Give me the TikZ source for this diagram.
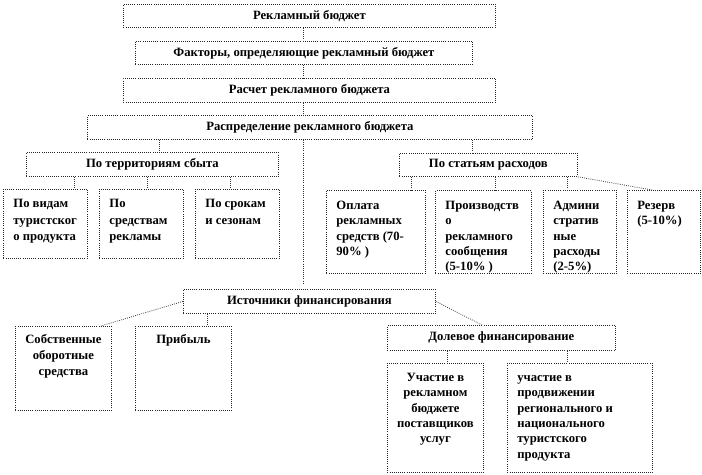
\documentclass[tikz,border=0pt]{standalone}
\usepackage{fontspec}
\setmainfont{Liberation Serif}
\usetikzlibrary{calc}
\tikzset{
  bx/.style={draw=black!85, densely dotted, line width=0.6pt, inner sep=0pt,
    font=\bfseries\fontsize{9.5}{11.5}\selectfont, text=black},
  ln/.style={draw=black!80, densely dotted, line width=0.6pt},
}
\newcommand\hbx[6]{\node[bx, anchor=north west, minimum width={(#4-#2)*0.75pt}, minimum height={(#5-#3)*0.75pt}] (#1) at (#2,#3) {#6};}
\newcommand\tbx[8]{\node[bx, anchor=north west] (#1) at (#2,#3) {\parbox[t][\dimexpr(#5pt-#3pt)*3/4\relax][t]{\dimexpr(#4pt-#2pt)*3/4\relax}{#7\vspace*{#6}\strut#8}};}
\newcommand\lft{\raggedright\leftskip=7.5pt }
\begin{document}
\begin{tikzpicture}[x=0.75pt,y=-0.75pt]
\useasboundingbox (0,0) rectangle (702,474);
\coordinate (col) at (303,0);
% top column
\hbx{b1}{123}{4}{495}{27}{Рекламный бюджет}
\hbx{b2}{135}{41}{472}{64}{Факторы, определяющие рекламный бюджет}
\hbx{b3}{123}{78}{495}{102}{Расчет рекламного бюджета}
\hbx{b4}{87}{115}{532}{139}{Распределение рекламного бюджета}
% distribution branches
\hbx{terr}{26}{152}{278}{176}{По территориям сбыта}
\hbx{art}{399}{153}{577}{176}{По статьям расходов}
\tbx{t1}{3}{189}{87}{258}{4.75pt}{\fontsize{9.5}{12.5}\selectfont\lft}{По видам\\ туристског\\ о продукта}
\tbx{t2}{99}{189}{183}{258}{4.75pt}{\fontsize{9.5}{12.5}\selectfont\lft}{По\\ средствам\\ рекламы}
\tbx{t3}{195}{189}{279}{258}{4.75pt}{\fontsize{9.5}{12.5}\selectfont\lft}{По срокам\\ и сезонам}
\tbx{a1}{326}{190}{425}{273}{6.2pt}{\lft}{Оплата\\ рекламных\\ средств (70-\\ 90\% )}
\tbx{a2}{435}{190}{531}{273}{6.2pt}{\lft}{Производств\\ о\\ рекламного\\ сообщения\\ (5-10\% )}
\tbx{a3}{543}{190}{616}{273}{6.2pt}{\lft}{Админи\\ стратив\\ ные\\ расходы\\ (2-5\%)}
\tbx{a4}{627}{190}{700}{273}{6.2pt}{\lft}{Резерв\\ (5-10\%)}
% financing
\hbx{ist}{183}{289}{435}{313}{Источники финансирования}
\tbx{own}{15}{326}{111}{410}{4.35pt}{\fontsize{9.5}{12}\selectfont\centering}{Собственные\\ оборотные\\ средства}
\tbx{prib}{135}{326}{231}{410}{4.35pt}{\fontsize{9.5}{12}\selectfont\centering}{Прибыль}
\hbx{dol}{387}{325}{615}{350}{Долевое финансирование}
\tbx{u1}{387}{363}{483}{472}{5.5pt}{\centering}{Участие в\\ рекламном\\ бюджете\\ поставщиков\\ услуг}
\tbx{u2}{507}{363}{652}{472}{5.5pt}{\lft}{участие в\\ продвижении\\ регионального и\\ национального\\ туристского\\ продукта}
% connectors
\draw[ln] (b1.south -| col) -- (b2.north -| col);
\draw[ln] (b2.south -| col) -- (b3.north -| col);
\draw[ln] (b3.south -| col) -- (b4.north -| col);
\draw[ln, shorten >=4.5pt] (b4.south -| col) -- (ist.north -| col);
\draw[ln] (b4.south -| 159,0) -- (terr.north -| 159,0);
\draw[ln] (b4.south -| 472,0) -- (art.north -| 472,0);
\draw[ln] (terr.south -| 74,0) -- (t1.north -| 74,0);
\draw[ln] (terr.south -| 147,0) -- (t2.north -| 147,0);
\draw[ln] (terr.south -| 230,0) -- (t3.north -| 230,0);
\draw[ln] (art.south -| 411,0) -- (a1.north -| 411,0);
\draw[ln] (art.south -| 495,0) -- (a2.north -| 495,0);
\draw[ln] (art.south -| 567,0) -- (a3.north -| 567,0);
\draw[ln] (art.south east) -- ([xshift=18.75pt]a4.north west);
\draw[ln] (ist.west) -- ([xshift=-8.25pt]own.north east);
\draw[ln] (ist.south -| 207,0) -- (prib.north -| 207,0);
\draw[ln] (ist.east) -- ([xshift=71.25pt]dol.north west);
\draw[ln] (dol.south -| 447,0) -- (u1.north -| 447,0);
\draw[ln] (dol.south -| 567,0) -- (u2.north -| 567,0);
\end{tikzpicture}
\end{document}
